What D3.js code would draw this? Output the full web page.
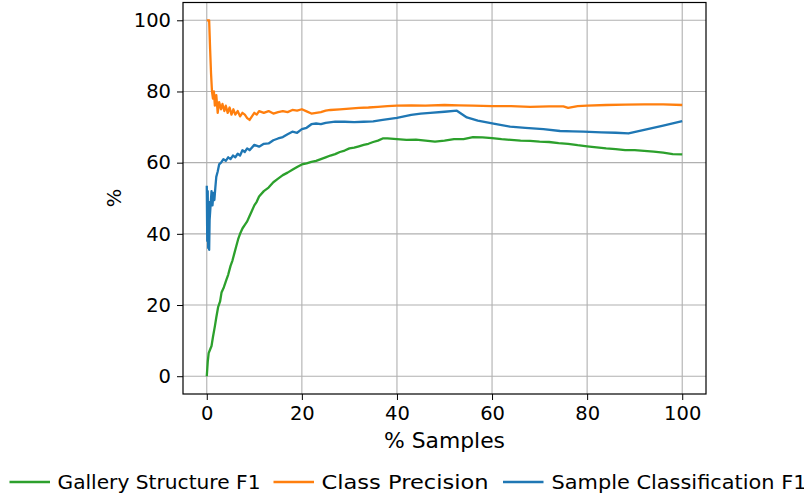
<!DOCTYPE html>
<html><head><meta charset="utf-8">
<script src="https://cdn.jsdelivr.net/npm/d3@7/dist/d3.min.js"></script>
<style>body{margin:0;background:#fff}svg{display:block}text{font-family:"DejaVu Sans",sans-serif;fill:#000}</style>
</head><body><svg id="c" width="804" height="495"></svg>
<script>
const xTicks = [0, 20, 40, 60, 80, 100];
const yTicks = [0, 20, 40, 60, 80, 100];
const seriesNames = ["Gallery Structure F1", "Class Precision", "Sample Classification F1"];
const seriesColors = ["#2ca02c", "#ff7f0e", "#1f77b4"];

const gsX = [0,0.2,0.4,0.7,1.0,1.3,1.7,2.0,2.4,2.8,3.1,3.6,4.1,4.5,5.0,5.4,5.8,6.2,6.6,7.0,7.5,8.0,8.5,9,9.5,10,10.5,11,12,13,14,15,16,17,18,19,20,21,22,23,24,25,26,27,28,29,30,31,32,33,34,35,36,37,38,40,42,44,46,48,50,52,54,56,58,60,62,64,66,68,70,72,74,76,78,80,82,84,86,88,90,92,94,96,98,100];
const gsY = [0,4,6.5,7.5,8.5,11,14,16.5,19.5,21,23.5,25,27,28.5,31,32.5,34.5,36.5,38.5,40,41.5,42.5,43.5,45,46.5,48,49,50.5,52,53,54.5,55.5,56.5,57.2,58,58.8,59.5,59.8,60.2,60.5,61,61.5,62,62.4,63,63.4,64,64.2,64.6,65,65.3,65.8,66.2,66.8,66.8,66.6,66.4,66.5,66.2,65.9,66.2,66.6,66.6,67.2,67.1,66.9,66.6,66.4,66.2,66.1,65.9,65.8,65.5,65.3,64.9,64.6,64.3,64,63.8,63.5,63.5,63.3,63.1,62.8,62.4,62.3];

const cpX = [0,0.5,0.7,0.9,1.1,1.3,1.5,1.7,2.0,2.3,2.6,3.0,3.3,3.7,4.0,4.4,4.8,5.2,5.6,6.0,6.5,7.0,7.5,8.0,8.5,9.0,9.5,10,10.5,11,12,13,14,15,16,17,18,19,20,21,22,23,24,25,26,28,30,32,34,36,38,40,43,46,50,53,56,60,64,68,72,75,76,78,80,84,88,92,96,100];
const cpY = [100,100,92,85,80,78,80,76,79,74,77,75,76.5,74.5,76,74,75.5,73.5,75,73.5,74.5,73,74,73.5,72.5,72,73,74,73.5,74.5,74,74.5,73.8,74.2,74.5,74.2,74.8,74.6,75,74.4,73.8,74,74.2,74.6,74.8,75,75.2,75.4,75.5,75.7,75.9,76,76.1,76,76.2,76.1,76,75.9,75.9,75.7,75.8,75.8,75.4,75.9,76,76.2,76.3,76.4,76.4,76.2];

const scX = [0,0.1,0.2,0.3,0.4,0.5,0.6,0.8,1.0,1.2,1.4,1.6,1.8,2.0,2.3,2.6,3.0,3.5,4.0,4.5,5,5.5,6,6.5,7,7.5,8,8.5,9,10,11,12,13,14,15,16,17,18,19,20,21,22,23,24,25,27,29,31,33,35,37,40,43,45,47,50,52.6,54.7,57,60.3,63.8,67,70.8,74.3,77,79.2,83,86,88.7,92,96,100];
const scY = [53.5,38,52,36,49,35.5,44,48,52,48,51.5,49.5,53,56,57.5,59.5,60,61,60.5,61.5,61,62,61.5,62.5,62,63.5,63,64,63.5,65,64.5,65.3,65.4,66.3,66.8,67.2,68,68.7,68.4,69.4,69.8,70.8,71,70.8,71.2,71.5,71.5,71.4,71.5,71.6,72,72.6,73.4,73.8,74,74.3,74.6,72.7,71.8,71,70.1,69.8,69.4,68.9,68.8,68.7,68.5,68.4,68.2,69.2,70.4,71.7];

const svg = d3.select("#c");
const L = 183, R = 706, T = 2.5, B = 394;
const x = d3.scaleLinear().domain([-5, 105]).range([L, R]);
const y = d3.scaleLinear().domain([-5, 105]).range([B, T]);

// grid
const g = svg.append("g");
g.selectAll(".gx").data(xTicks).enter().append("line")
  .attr("x1", d => x(d)).attr("x2", d => x(d)).attr("y1", T).attr("y2", B)
  .attr("stroke", "#b0b0b0").attr("stroke-width", 1.1);
g.selectAll(".gy").data(yTicks).enter().append("line")
  .attr("y1", d => y(d)).attr("y2", d => y(d)).attr("x1", L).attr("x2", R)
  .attr("stroke", "#b0b0b0").attr("stroke-width", 1.1);

// lines
const series = [
  {xs: gsX, ys: gsY, c: seriesColors[0]},
  {xs: cpX, ys: cpY, c: seriesColors[1]},
  {xs: scX, ys: scY, c: seriesColors[2]}
];
const line = d3.line().x(d => x(d[0])).y(d => y(d[1]));
svg.append("clipPath").attr("id", "clp").append("rect")
  .attr("x", L).attr("y", T).attr("width", R - L).attr("height", B - T);
series.forEach(s => {
  svg.append("path").datum(s.xs.map((v, i) => [v, s.ys[i]]))
    .attr("d", line).attr("fill", "none").attr("stroke", s.c)
    .attr("stroke-width", 2.3).attr("stroke-linejoin", "round").attr("stroke-linecap", "butt")
    .attr("clip-path", "url(#clp)");
});

// axes
const xa = svg.append("g").attr("transform", `translate(0,${B})`)
  .call(d3.axisBottom(x).tickValues(xTicks).tickSize(6).tickPadding(6).tickFormat(d3.format("d")));
const ya = svg.append("g").attr("transform", `translate(${L},0)`)
  .call(d3.axisLeft(y).tickValues(yTicks).tickSize(6).tickPadding(6).tickFormat(d3.format("d")));
[xa, ya].forEach(a => {
  a.select(".domain").remove();
  a.selectAll(".tick line").attr("stroke", "#000").attr("stroke-width", 1);
  a.selectAll(".tick text").attr("font-size", 19.5).attr("font-family", "DejaVu Sans").attr("fill", "#000");
});
xa.selectAll(".tick text").attr("dy", "0.71em");

svg.append("rect").attr("x", L).attr("y", T).attr("width", R - L).attr("height", B - T)
  .attr("fill", "none").attr("stroke", "#000").attr("stroke-width", 1.2);

// axis labels
svg.append("text").attr("x", (L + R) / 2).attr("y", 448).attr("text-anchor", "middle")
  .attr("font-size", 21).attr("textLength", 121).attr("lengthAdjust", "spacingAndGlyphs").text("% Samples");
svg.append("text").attr("transform", "translate(121,198) rotate(-90)").attr("text-anchor", "middle")
  .attr("font-size", 19.5).text("%");

// legend
const legLineX = [9.5, 273.5, 503];
const legTextX = [57.5, 321.5, 551.5];
const legTextW = [203, 167, 255];
const leg = svg.append("g");
seriesNames.forEach((n, i) => {
  leg.append("line").attr("x1", legLineX[i]).attr("x2", legLineX[i] + 40.5).attr("y1", 482).attr("y2", 482)
    .attr("stroke", seriesColors[i]).attr("stroke-width", 2.3);
  leg.append("text").attr("x", legTextX[i]).attr("y", 488.5).attr("font-size", 20)
    .attr("textLength", legTextW[i]).attr("lengthAdjust", "spacingAndGlyphs").text(n);
});
</script></body></html>
